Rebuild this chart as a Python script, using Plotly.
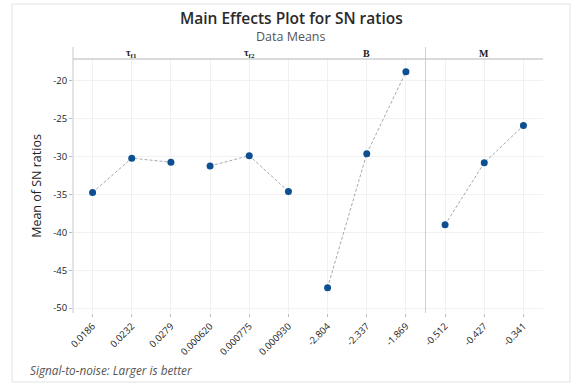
import plotly.graph_objects as go

# Factor levels and mean SN ratios (dB) for each level
factors = ["τ<sub>f1</sub>", "τ<sub>f2</sub>", "B", "M"]
tau_f1_levels = ["0.0186", "0.0232", "0.0279"]
tau_f1_means = [-34.74, -30.20, -30.74]
tau_f2_levels = ["0.000620", "0.000775", "0.000930"]
tau_f2_means = [-31.23, -29.87, -34.60]
b_levels = ["-2.804", "-2.337", "-1.869"]
b_means = [-47.30, -29.60, -18.80]
m_levels = ["-0.512", "-0.427", "-0.341"]
m_means = [-39.00, -30.80, -25.90]

y_ticks = [-20, -25, -30, -35, -40, -45, -50]

groups = [
    (tau_f1_levels, tau_f1_means),
    (tau_f2_levels, tau_f2_means),
    (b_levels, b_means),
    (m_levels, m_means),
]
all_levels = [lv for g in groups for lv in g[0]]

W, H = 571, 383
L, R, T, B = 73, 28, 59, 70
pw, ph = W - L - R, H - T - B

fig = go.Figure()
for levels, means in groups:
    fig.add_trace(go.Scatter(
        x=levels, y=means, mode="lines+markers",
        line=dict(color="rgba(125,125,135,0.85)", width=0.8, dash="3px,2px"),
        marker=dict(color="#0d4f91", size=7),
        showlegend=False, hoverinfo="x+y",
    ))

def px_x(x):
    return (x - L) / pw

def px_y(y):
    return (H - B - y) / ph

strip_top = px_y(47)
shapes = [
    # outer frame
    dict(type="rect", xref="paper", yref="paper",
         x0=px_x(12), x1=px_x(570), y0=px_y(382), y1=px_y(4),
         line=dict(color="#e2e2e2", width=1), layer="below"),
    # strip baseline
    dict(type="line", xref="paper", yref="paper", x0=0, x1=1, y0=1, y1=1,
         line=dict(color="#b5b5b5", width=1.2)),
    # left axis line extending into strip
    dict(type="line", xref="paper", yref="paper", x0=0, x1=0, y0=0, y1=strip_top,
         line=dict(color="#c8c8c8", width=1)),
    # panel separator between B and M
    dict(type="line", xref="x", yref="paper", x0=8.5, x1=8.5, y0=0, y1=strip_top,
         line=dict(color="#cfcfcf", width=1)),
]

annotations = []
for i, name in enumerate(factors):
    annotations.append(dict(
        x=3 * i + 1, xref="x", y=px_y(53), yref="paper", text=f"<b>{name}</b>",
        showarrow=False, font=dict(family="Liberation Serif", size=10, color="#222"),
        xanchor="center", yanchor="middle",
    ))
annotations += [
    dict(x=px_x(291), y=px_y(17.5), xref="paper", yref="paper",
         text="Main Effects Plot for SN ratios", showarrow=False,
         font=dict(family="Open Sans", size=15.5, color="#2a2a2a", weight=600),
         xanchor="center", yanchor="middle"),
    dict(x=px_x(291), y=px_y(37), xref="paper", yref="paper",
         text="Data Means", showarrow=False,
         font=dict(family="Open Sans", size=12.5, color="#555"),
         xanchor="center", yanchor="middle"),
    dict(x=px_x(28), y=px_y(370), xref="paper", yref="paper",
         text="<i>Signal-to-noise: Larger is better</i>", showarrow=False,
         font=dict(family="Open Sans", size=11.8, color="#555"),
         xanchor="left", yanchor="middle"),
]

fig.update_layout(
    width=W, height=H,
    margin=dict(l=L, r=R, t=T, b=B),
    paper_bgcolor="white", plot_bgcolor="white",
    shapes=shapes, annotations=annotations,
    xaxis=dict(
        type="category", categoryorder="array", categoryarray=all_levels,
        range=[-0.5, 11.5], tickangle=-45,
        tickfont=dict(family="Open Sans", size=9.5, color="#222"),
        showgrid=True, gridcolor="#f1f1f1", gridwidth=1,
        showline=False, zeroline=False,
        ticks="outside", ticklen=3, tickcolor="#bbb",
    ),
    yaxis=dict(
        range=[-50.65, -17.1],
        tickvals=y_ticks, ticktext=[str(v) for v in y_ticks],
        tickfont=dict(family="Open Sans", size=9.5, color="#222"),
        showgrid=True, gridcolor="#f1f1f1", gridwidth=1,
        showline=False, zeroline=False,
        ticks="outside", ticklen=3, tickcolor="#bbb",
        title=dict(text="Mean of SN ratios", standoff=8,
                   font=dict(family="Open Sans", size=12.5, color="#222")),
    ),
)

fig.write_html("out.html")
